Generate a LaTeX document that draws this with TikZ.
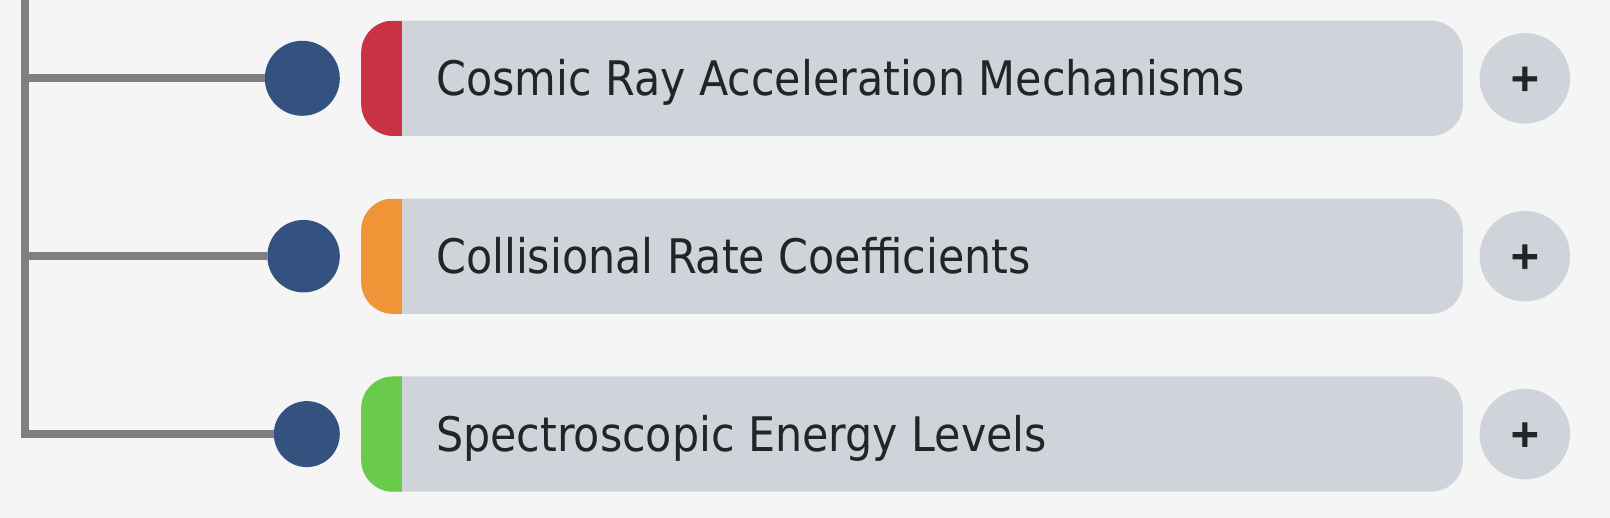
\documentclass[tikz,border=0pt]{standalone}
\usepackage{xcolor}
\usepackage{fontspec}
\setmainfont{DejaVu Sans Condensed}
\newfontfamily\plusfont{DejaVu Sans}[BoldFeatures={FakeBold=2}]
\usepackage{tikz}
\usetikzlibrary{positioning}
\definecolor{bgpage}{HTML}{F5F5F5}
\definecolor{linegray}{HTML}{808080}
\definecolor{dotblue}{HTML}{345280}
\definecolor{boxgray}{HTML}{CFD4DB}
\definecolor{textdark}{HTML}{212529}
\definecolor{barred}{HTML}{C93243}
\definecolor{barorange}{HTML}{F09537}
\definecolor{bargreen}{HTML}{6ACB4B}

\begin{document}
\begin{tikzpicture}[x=1pt,y=-1pt,every node/.style={inner sep=0pt},
    topic/.style={shape=rectangle,rounded corners=32pt,fill=boxgray,minimum width=1101.7pt,minimum height=115.3pt,anchor=west,
        path picture={\fill[#1,sharp corners] (path picture bounding box.north west) rectangle ([xshift=41pt]path picture bounding box.south west);}},
    bullet/.style={shape=circle,fill=dotblue},
    expand/.style={shape=circle,fill=boxgray,minimum size=90.5pt,text=textdark,text height=25pt,text depth=0pt,font=\plusfont\bfseries\fontsize{38}{42}\selectfont},
    topictext/.style={anchor=west,text height=34.7pt,text depth=0pt,text=textdark,font=\fontsize{47.6}{56}\selectfont},
    branch/.style={draw=linegray,line width=8pt}]
      \path[use as bounding box,fill=bgpage] (0,0) rectangle (1610,518);
      % topics
      \node[topic=barred] (box1) at (361,78.3) {};
      \node[topic=barorange,below=62.2pt of box1] (box2) {};
      \node[topic=bargreen,below=62.2pt of box2] (box3) {};
      \node[topictext] (title1) at ([xshift=75pt]box1.west) {Cosmic Ray Acceleration Mechanisms};
      \node[topictext] (title2) at ([xshift=75pt]box2.west) {Collisional Rate Coefficients};
      \node[topictext] (title3) at ([xshift=75pt]box3.west) {Spectroscopic Energy Levels};
      \node[expand,right=16.3pt of box1] (plus1) {+};
      \node[expand,right=16.3pt of box2] (plus2) {+};
      \node[expand,right=16.3pt of box3] (plus3) {+};
      % bullets and branches
      \node[bullet,minimum size=75pt,left=21pt of box1] (dot1) {};
      \node[bullet,minimum size=72.5pt,left=21pt of box2] (dot2) {};
      \node[bullet,minimum size=66pt,left=21pt of box3] (dot3) {};
      \coordinate (trunk) at (25,0);
      \draw[branch] (trunk) -- (trunk |- dot3) -- (dot3);
      \draw[branch] (trunk |- dot1) -- (dot1);
      \draw[branch] (trunk |- dot2) -- (dot2);
\end{tikzpicture}
\end{document}
